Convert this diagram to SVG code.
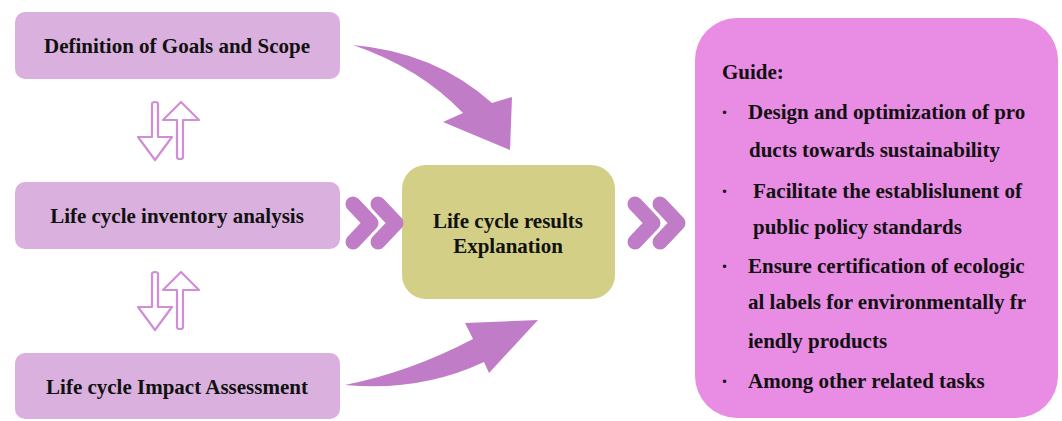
<svg xmlns="http://www.w3.org/2000/svg" width="1062" height="421" viewBox="0 0 1062 421">
<style>
.box{fill:#dab1de;}
.t{font-family:"Liberation Serif","Times New Roman",serif;font-weight:bold;font-size:21px;fill:#111;}
.c{text-anchor:middle;}
.conn{fill:#c07cc6;}
.chev{fill:none;stroke:#c07cc6;stroke-width:15;stroke-linecap:round;stroke-linejoin:round;}
.icon{fill:#fff;stroke:#d08ed6;stroke-width:2.2;stroke-linejoin:round;}
</style>
<rect width="1062" height="421" fill="#fff"/>
<g id="node-goals">
<rect class="box" x="15" y="12" width="325" height="67" rx="10"/>
<text class="t c" x="177" y="53">Definition of Goals and Scope</text>
</g>
<g id="node-inventory">
<rect class="box" x="15" y="182" width="325" height="67" rx="10"/>
<text class="t c" x="177" y="223">Life cycle inventory analysis</text>
</g>
<g id="node-impact">
<rect class="box" x="15" y="353" width="325" height="66" rx="10"/>
<text class="t c" x="177" y="394">Life cycle Impact Assessment</text>
</g>
<g id="node-results">
<rect x="402" y="165" width="213" height="134" rx="24" fill="#d4cf87"/>
<text class="t c" x="508" y="228">Life cycle results</text>
<text class="t c" x="508" y="253">Explanation</text>
</g>
<g id="node-guide">
<rect x="695" y="18" width="363" height="400" rx="42" fill="#e98ce4"/>
<text class="t" x="722" y="79">Guide:</text>
<text class="t" x="721" y="119">·</text><text class="t" x="748" y="119">Design and optimization of pro</text>
<text class="t" x="749" y="157">ducts towards sustainability</text>
<text class="t" x="721" y="198">·</text><text class="t" x="753" y="198">Facilitate the establislunent of</text>
<text class="t" x="753" y="234">public policy standards</text>
<text class="t" x="721" y="273">·</text><text class="t" x="748" y="273">Ensure certification of ecologic</text>
<text class="t" x="748" y="309">al labels for environmentally fr</text>
<text class="t" x="748" y="348">iendly products</text>
<text class="t" x="721" y="388">·</text><text class="t" x="748" y="388">Among other related tasks</text>
</g>
<g id="connectors">
<path class="conn" d="M353,45 Q435,52 492,103 L512,97 L510,150 L443,122 L463,113 Q420,68 353,45 Z"/>
<path class="conn" d="M345,385 Q420,392 484,362 L489,373 L538,320 L465,323 L473,339 Q410,372 345,385 Z"/>
<polyline class="chev" points="353,204 371,223 353,242"/>
<polyline class="chev" points="378,204 396,223 378,242"/>
<polyline class="chev" points="635,204 653,223 635,242"/>
<polyline class="chev" points="660,204 678,223 660,242"/>
<g id="icon-1">
<path class="icon" d="M152,104 Q152,102 155,102 Q158,102 158,104 L158,137 L172,137 L155,160 L138,137 L152,137 Z"/>
<path class="icon" d="M177,157 Q177,159 180,159 Q183,159 183,157 L183,120 L199,120 L181,102 L163,120 L177,120 Z"/>
</g>
<g id="icon-2">
<path class="icon" d="M152,274 Q152,272 155,272 Q158,272 158,274 L158,307 L172,307 L155,330 L138,307 L152,307 Z"/>
<path class="icon" d="M177,327 Q177,329 180,329 Q183,329 183,327 L183,290 L199,290 L181,272 L163,290 L177,290 Z"/>
</g>
</g>
</svg>
